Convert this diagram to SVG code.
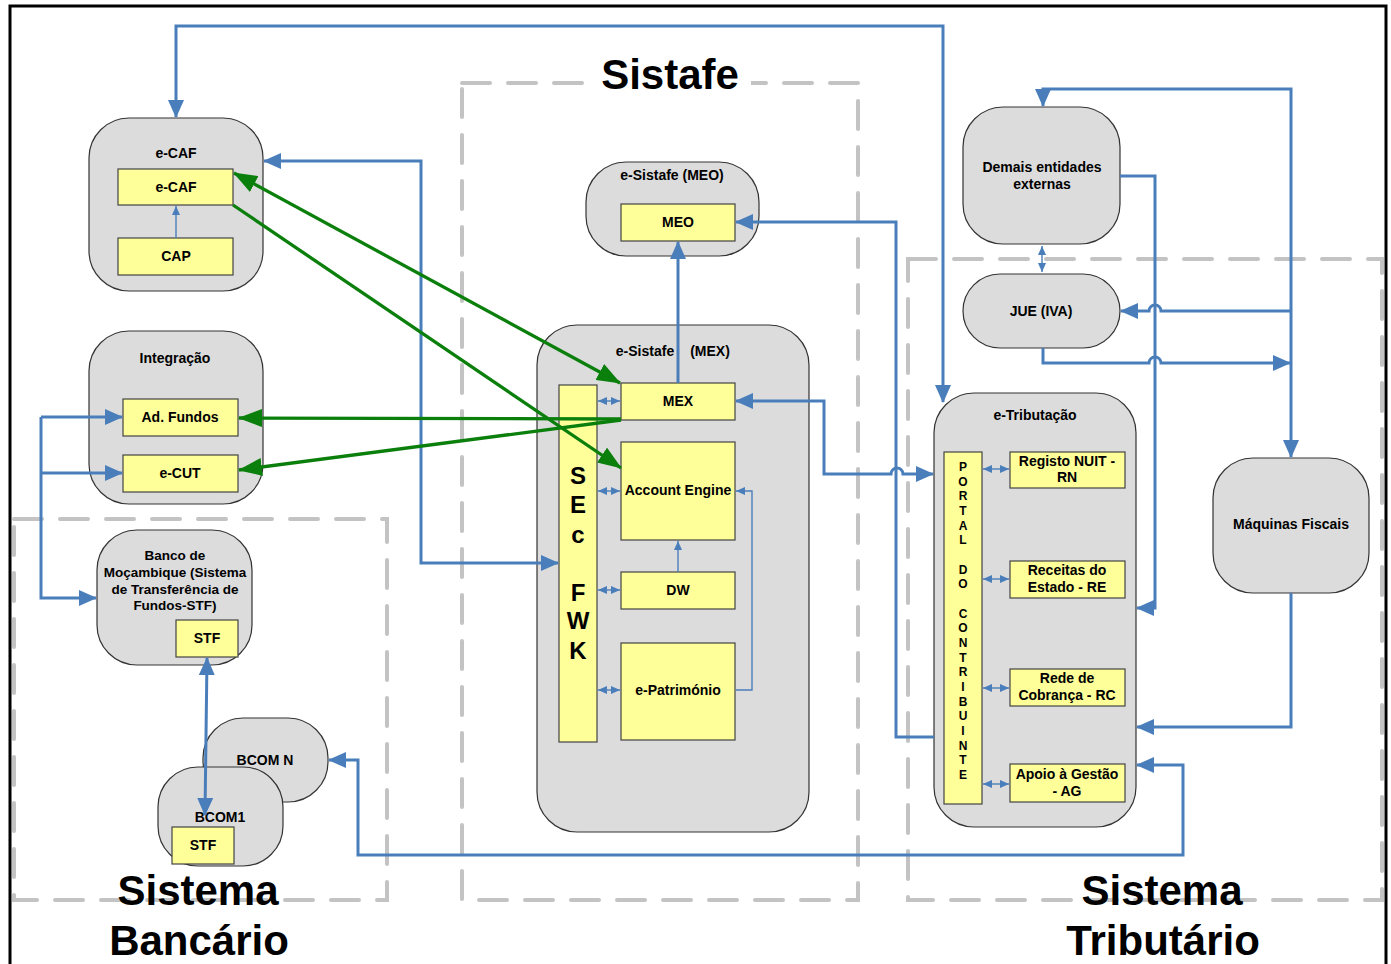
<svg xmlns="http://www.w3.org/2000/svg" width="1391" height="964" viewBox="0 0 1391 964">
<style>
.frame{fill:none;stroke:#000;stroke-width:3}
.zone{fill:none;stroke:#c3c3c3;stroke-width:4;stroke-dasharray:28 18;stroke-linecap:round}
.g{fill:#dcdcdc;stroke:#333;stroke-width:1.2}
.y{fill:#ffff99;stroke:#444;stroke-width:1.2}
text{font-family:"Liberation Sans",Arial,sans-serif;font-weight:bold;fill:#000}
.t{font-size:14px;text-anchor:middle}
.tb{font-size:13.5px;text-anchor:middle}
.big{font-size:42px;text-anchor:middle}
.v{font-size:24px;text-anchor:middle}
.p{font-size:12px;text-anchor:middle}
.b{fill:none;stroke:#4a7ebb;stroke-width:3}
.bt{fill:none;stroke:#4a7ebb;stroke-width:1.4}
.gr{fill:none;stroke:#0b7f0b;stroke-width:3.3}
</style>
<defs>
<marker id="ab" viewBox="0 0 18 16" refX="17" refY="8" markerWidth="18" markerHeight="16" markerUnits="userSpaceOnUse" orient="auto-start-reverse"><path d="M0,0 L18,8 L0,16 z" fill="#4a7ebb"/></marker>
<marker id="ag" viewBox="0 0 24 18" refX="23" refY="9" markerWidth="24" markerHeight="18" markerUnits="userSpaceOnUse" orient="auto-start-reverse"><path d="M0,0 L24,9 L0,18 z" fill="#0b7f0b"/></marker>
<marker id="as" viewBox="0 0 9 8" refX="9" refY="4" markerWidth="9" markerHeight="8" markerUnits="userSpaceOnUse" orient="auto-start-reverse"><path d="M0,0 L9,4 L0,8 z" fill="#4a7ebb"/></marker>
</defs>
<rect width="1391" height="964" fill="#fff"/>
<rect class="frame" x="10" y="6" width="1376" height="970"/>

<g id="zones">
<rect class="zone" x="462" y="83" width="396" height="817"/>
<rect class="zone" x="14" y="519" width="373" height="381"/>
<rect class="zone" x="908" y="259" width="474" height="641"/>
<rect x="585" y="70" width="166" height="26" fill="#fff"/>
<text class="big" x="670" y="89">Sistafe</text>
<text class="big" x="198" y="905">Sistema</text>
<text class="big" x="199" y="955">Bancário</text>
<text class="big" x="1162" y="905">Sistema</text>
<text class="big" x="1163" y="955">Tributário</text>
</g>

<g id="ecaf">
<rect class="g" x="89" y="118" width="174" height="173" rx="40"/>
<text class="t" x="176" y="158">e-CAF</text>
<rect class="y" x="118" y="169" width="115" height="36"/>
<text class="t" x="176" y="192">e-CAF</text>
<rect class="y" x="118" y="238" width="115" height="37"/>
<text class="t" x="176" y="261">CAP</text>
</g>

<g id="integracao">
<rect class="g" x="89" y="331" width="174" height="173" rx="40"/>
<text class="t" x="175" y="363">Integração</text>
<rect class="y" x="123" y="399" width="115" height="37"/>
<text class="t" x="180" y="422">Ad. Fundos</text>
<rect class="y" x="123" y="455" width="115" height="37"/>
<text class="t" x="180" y="478">e-CUT</text>
</g>

<g id="banco">
<rect class="g" x="97" y="530" width="155" height="135" rx="40"/>
<text class="tb" x="175" y="560">Banco de</text>
<text class="tb" x="175" y="577">Moçambique (Sistema</text>
<text class="tb" x="175" y="594">de Transferência de</text>
<text class="tb" x="175" y="610">Fundos-STF)</text>
<rect class="y" x="176" y="620" width="62" height="37"/>
<text class="t" x="207" y="643">STF</text>
</g>

<g id="bcomn">
<rect class="g" x="203" y="718" width="125" height="84" rx="40"/>
<text class="t" x="265" y="765">BCOM N</text>
</g>

<g id="bcom1">
<rect class="g" x="158" y="767" width="125" height="99" rx="40"/>
<text class="t" x="220" y="822">BCOM1</text>
<rect class="y" x="172" y="827" width="62" height="37"/>
<text class="t" x="203" y="850">STF</text>
</g>

<g id="meo">
<rect class="g" x="586" y="162" width="173" height="94" rx="40"/>
<text class="t" x="672" y="180">e-Sistafe (MEO)</text>
<rect class="y" x="621" y="204" width="114" height="37"/>
<text class="t" x="678" y="227">MEO</text>
</g>

<g id="mex">
<rect class="g" x="537" y="325" width="272" height="507" rx="40"/>
<text class="t" x="645" y="356">e-Sistafe</text>
<text class="t" x="710" y="356">(MEX)</text>
<rect class="y" x="559" y="385" width="38" height="357"/>
<text class="v" x="578" y="484">S</text>
<text class="v" x="578" y="513">E</text>
<text class="v" x="578" y="543">c</text>
<text class="v" x="578" y="601">F</text>
<text class="v" x="578" y="629">W</text>
<text class="v" x="578" y="659">K</text>
<rect class="y" x="621" y="383" width="114" height="37"/>
<text class="t" x="678" y="406">MEX</text>
<rect class="y" x="621" y="442" width="114" height="98"/>
<text class="t" x="678" y="495">Account Engine</text>
<rect class="y" x="621" y="572" width="114" height="37"/>
<text class="t" x="678" y="595">DW</text>
<rect class="y" x="621" y="643" width="114" height="97"/>
<text class="t" x="678" y="695">e-Património</text>
</g>

<g id="demais">
<rect class="g" x="963" y="107" width="157" height="137" rx="40"/>
<text class="t" x="1042" y="172">Demais entidades</text>
<text class="t" x="1042" y="189">externas</text>
</g>

<g id="jue">
<rect class="g" x="963" y="274" width="157" height="74" rx="37"/>
<text class="t" x="1041" y="316">JUE (IVA)</text>
</g>

<g id="etributacao">
<rect class="g" x="934" y="393" width="202" height="434" rx="40"/>
<text class="t" x="1035" y="420">e-Tributação</text>
<rect class="y" x="944" y="452" width="38" height="352"/>
<text class="p" x="963" y="471">P</text>
<text class="p" x="963" y="486">O</text>
<text class="p" x="963" y="500">R</text>
<text class="p" x="963" y="515">T</text>
<text class="p" x="963" y="530">A</text>
<text class="p" x="963" y="544">L</text>
<text class="p" x="963" y="574">D</text>
<text class="p" x="963" y="588">O</text>
<text class="p" x="963" y="618">C</text>
<text class="p" x="963" y="632">O</text>
<text class="p" x="963" y="647">N</text>
<text class="p" x="963" y="662">T</text>
<text class="p" x="963" y="676">R</text>
<text class="p" x="963" y="691">I</text>
<text class="p" x="963" y="706">B</text>
<text class="p" x="963" y="720">U</text>
<text class="p" x="963" y="735">I</text>
<text class="p" x="963" y="750">N</text>
<text class="p" x="963" y="764">T</text>
<text class="p" x="963" y="779">E</text>
<rect class="y" x="1010" y="452" width="115" height="36"/>
<text class="t" x="1067" y="466">Registo NUIT -</text>
<text class="t" x="1067" y="482">RN</text>
<rect class="y" x="1010" y="561" width="115" height="37"/>
<text class="t" x="1067" y="575">Receitas do</text>
<text class="t" x="1067" y="592">Estado - RE</text>
<rect class="y" x="1010" y="669" width="115" height="37"/>
<text class="t" x="1067" y="683">Rede de</text>
<text class="t" x="1067" y="700">Cobrança - RC</text>
<rect class="y" x="1010" y="764" width="115" height="38"/>
<text class="t" x="1067" y="779">Apoio à Gestão</text>
<text class="t" x="1067" y="796">- AG</text>
</g>

<g id="maquinas">
<rect class="g" x="1213" y="458" width="156" height="135" rx="40"/>
<text class="t" x="1291" y="529">Máquinas Fiscais</text>
</g>

<g id="connectors">
<path class="b" d="M176,117 L176,26 L943,26 L943,402" marker-start="url(#ab)" marker-end="url(#ab)"/>
<path class="b" d="M264,161 L421,161 L421,563 L558,563" marker-start="url(#ab)" marker-end="url(#ab)"/>
<path class="b" d="M736,401 L824,401 L824,474 L891,474 A6,6 0 0 1 903,474 L933,474" marker-start="url(#ab)" marker-end="url(#ab)"/>
<path class="b" d="M736,222 L896,222 L896,737 L934,737" marker-start="url(#ab)"/>
<path class="b" d="M329,760 L358,760 L358,855 L1183,855 L1183,765 L1137,765" marker-start="url(#ab)" marker-end="url(#ab)"/>
<path class="b" d="M41,417 L122,417" marker-end="url(#ab)"/>
<path class="b" d="M41,473 L122,473" marker-end="url(#ab)"/>
<path class="b" d="M41,417 L41,598 L96,598" marker-end="url(#ab)"/>
<path class="b" d="M207,658 L205,815" marker-start="url(#ab)" marker-end="url(#ab)"/>
<path class="b" d="M678,383 L678,242" marker-end="url(#ab)"/>
<path class="b" d="M1043,106 L1043,89 L1291,89 L1291,457" marker-start="url(#ab)" marker-end="url(#ab)"/>
<path class="b" d="M1291,311 L1161,311 A6,6 0 0 0 1149,311 L1121,311" marker-end="url(#ab)"/>
<path class="b" d="M1043,348 L1043,363 L1149,363 A6,6 0 0 1 1161,363 L1290,363" marker-end="url(#ab)"/>
<path class="b" d="M1120,176 L1155,176 L1155,608 L1137,608" marker-end="url(#ab)"/>
<path class="b" d="M1291,593 L1291,727 L1137,727" marker-end="url(#ab)"/>
<path class="gr" d="M620,383 L234,173" marker-start="url(#ag)" marker-end="url(#ag)"/>
<path class="gr" d="M233,205 L621,468" marker-end="url(#ag)"/>
<path class="gr" d="M621,419 L239,418" marker-end="url(#ag)"/>
<path class="gr" d="M621,420 L239,470" marker-end="url(#ag)"/>
<path class="bt" d="M1042,246 L1042,272" marker-start="url(#as)" marker-end="url(#as)"/>
<path class="bt" d="M176,238 L176,206" marker-end="url(#as)"/>
<path class="bt" d="M678,572 L678,541" marker-end="url(#as)"/>
<path class="bt" d="M736,690 L752,690 L752,491 L736,491" marker-end="url(#as)"/>
<path class="bt" d="M598,401 L620,401" marker-start="url(#as)" marker-end="url(#as)"/>
<path class="bt" d="M598,491 L620,491" marker-start="url(#as)" marker-end="url(#as)"/>
<path class="bt" d="M598,590 L620,590" marker-start="url(#as)" marker-end="url(#as)"/>
<path class="bt" d="M598,690 L620,690" marker-start="url(#as)" marker-end="url(#as)"/>
<path class="bt" d="M983,469 L1009,469" marker-start="url(#as)" marker-end="url(#as)"/>
<path class="bt" d="M983,579 L1009,579" marker-start="url(#as)" marker-end="url(#as)"/>
<path class="bt" d="M983,688 L1009,688" marker-start="url(#as)" marker-end="url(#as)"/>
<path class="bt" d="M983,784 L1009,784" marker-start="url(#as)" marker-end="url(#as)"/>
</g>
</svg>
